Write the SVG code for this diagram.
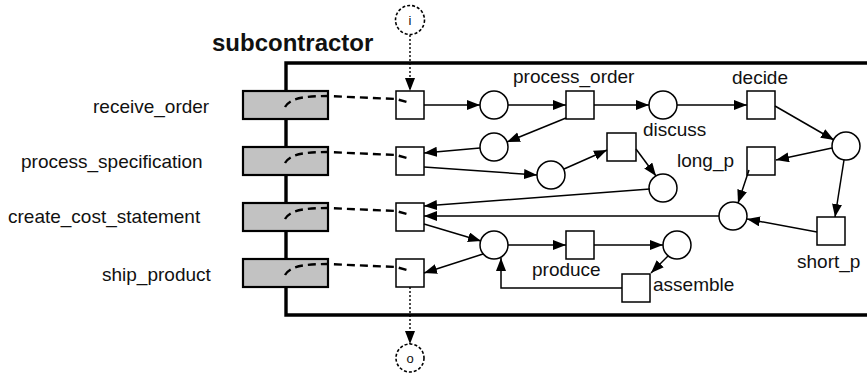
<svg xmlns="http://www.w3.org/2000/svg" width="867" height="373" viewBox="0 0 867 373">
<defs>
<marker id="ah" markerUnits="userSpaceOnUse" markerWidth="15" markerHeight="11" refX="13" refY="5" orient="auto">
<path d="M0,0 L13,5 L0,10 z" fill="#000"/>
</marker>
<style>
.lbl{font-family:"Liberation Sans",Arial,sans-serif;font-size:19px;fill:#111}
.pl{fill:#fff;stroke:#000;stroke-width:1.5}
.tr{fill:#fff;stroke:#000;stroke-width:1.5}
.gb{fill:#c2c2c2;stroke:#000;stroke-width:2.2}
.arc{fill:none;stroke:#000;stroke-width:1.5;marker-end:url(#ah)}
.dash{fill:none;stroke:#000;stroke-width:2.4;stroke-dasharray:8,5}
.dot{fill:none;stroke:#000;stroke-width:1.4;stroke-dasharray:2,2}
.io{fill:#fff;stroke:#000;stroke-width:1.6;stroke-dasharray:3,2}
</style>
</defs>
<rect width="867" height="373" fill="#fff"/>

<g id="subcontractor">
<path d="M872,63 L286,63 L286,315 L872,315" fill="#fff" stroke="#000" stroke-width="3.4"/>
<text x="212" y="51" font-family="'Liberation Sans',Arial,sans-serif" font-size="24" font-weight="bold" fill="#111">subcontractor</text>
</g>

<g id="port-receive_order">
<rect class="gb" x="243" y="91" width="85" height="28"/>
<text class="lbl" x="93" y="113">receive_order</text>
</g>
<g id="port-process_specification">
<rect class="gb" x="243" y="147" width="85" height="28"/>
<text class="lbl" x="21" y="168">process_specification</text>
</g>
<g id="port-create_cost_statement">
<rect class="gb" x="243" y="203" width="85" height="28"/>
<text class="lbl" x="8" y="223">create_cost_statement</text>
</g>
<g id="port-ship_product">
<rect class="gb" x="243" y="259" width="85" height="28"/>
<text class="lbl" x="102" y="281">ship_product</text>
</g>

<g id="io-i">
<circle class="io" cx="410" cy="20" r="14.5"/>
<text x="410" y="25" text-anchor="middle" font-family="'Liberation Sans',Arial,sans-serif" font-size="13" fill="#111">i</text>
</g>
<g id="io-o">
<circle class="io" cx="410" cy="358" r="14"/>
<text x="410" y="363" text-anchor="middle" font-family="'Liberation Sans',Arial,sans-serif" font-size="13" fill="#111">o</text>
</g>

<g id="t-receive"><rect class="tr" x="396" y="91" width="28" height="28"/></g>
<g id="t-spec"><rect class="tr" x="396" y="147" width="28" height="28"/></g>
<g id="t-cost"><rect class="tr" x="396" y="203" width="28" height="28"/></g>
<g id="t-ship"><rect class="tr" x="396" y="259" width="28" height="28"/></g>

<g id="p-a"><circle class="pl" cx="494" cy="105" r="14"/></g>
<g id="t-process_order"><rect class="tr" x="566" y="91" width="28" height="28"/><text class="lbl" x="513" y="83">process_order</text></g>
<g id="p-discuss"><circle class="pl" cx="663" cy="105" r="14"/><text class="lbl" x="643" y="136">discuss</text></g>
<g id="t-decide"><rect class="tr" x="747" y="91" width="28" height="28"/><text class="lbl" x="732" y="84">decide</text></g>
<g id="p-b"><circle class="pl" cx="494" cy="147" r="14"/></g>
<g id="p-c"><circle class="pl" cx="551" cy="175" r="14"/></g>
<g id="t-e"><rect class="tr" x="607" y="133" width="29" height="28"/></g>
<g id="p-f"><circle class="pl" cx="663" cy="188" r="14"/></g>
<g id="p-i"><circle class="pl" cx="846" cy="146" r="14"/></g>
<g id="t-long_p"><rect class="tr" x="747" y="147" width="28" height="28"/><text class="lbl" x="677" y="167">long_p</text></g>
<g id="p-j"><circle class="pl" cx="733" cy="216" r="14"/></g>
<g id="t-short_p"><rect class="tr" x="817" y="217" width="28" height="28"/><text class="lbl" x="797" y="268">short_p</text></g>
<g id="p-d"><circle class="pl" cx="494" cy="245" r="14"/></g>
<g id="t-produce"><rect class="tr" x="566" y="231" width="28" height="28"/><text class="lbl" x="532" y="276">produce</text></g>
<g id="p-h"><circle class="pl" cx="677" cy="245" r="14"/></g>
<g id="t-assemble"><rect class="tr" x="622" y="274" width="28" height="28"/><text class="lbl" x="653" y="291">assemble</text></g>

<g id="connectors">
<path class="dash" d="M285,107 C290,98 305,96 328,96 L396,99 L407,102"/>
<path class="dash" d="M285,163 C290,154 305,152 328,152 L396,155 L407,158"/>
<path class="dash" d="M285,219 C290,210 305,208 328,208 L396,211 L407,214"/>
<path class="dash" d="M285,275 C290,266 305,264 328,264 L396,267 L407,270"/>
<path class="dot" d="M410,35 L410,91" marker-end="url(#ah)"/>
<path class="dot" d="M410,287 L410,344" marker-end="url(#ah)"/>
<path class="arc" d="M424,105 L480,105"/>
<path class="arc" d="M508,105 L566,105"/>
<path class="arc" d="M594,105 L649,105"/>
<path class="arc" d="M566,118 L507,142"/>
<path class="arc" d="M480,148 L424,153"/>
<path class="arc" d="M424,167 L537,175"/>
<path class="arc" d="M564,169 L607,150"/>
<path class="arc" d="M636,149 L656,176"/>
<path class="arc" d="M650,189 L424,206"/>
<path class="arc" d="M719,216 L424,216"/>
<path class="arc" d="M424,224 L481,241"/>
<path class="arc" d="M483,254 L424,273"/>
<path class="arc" d="M508,245 L566,245"/>
<path class="arc" d="M594,245 L663,245"/>
<path class="arc" d="M668,256 L651,273"/>
<path class="arc" d="M622,288 L501,288 L501,258"/>
<path class="arc" d="M677,105 L747,105"/>
<path class="arc" d="M775,106 L834,140"/>
<path class="arc" d="M832,148 L776,160"/>
<path class="arc" d="M844,160 L835,217"/>
<path class="arc" d="M749,170 L738,203"/>
<path class="arc" d="M817,232 L747,219"/>
</g>
</svg>
